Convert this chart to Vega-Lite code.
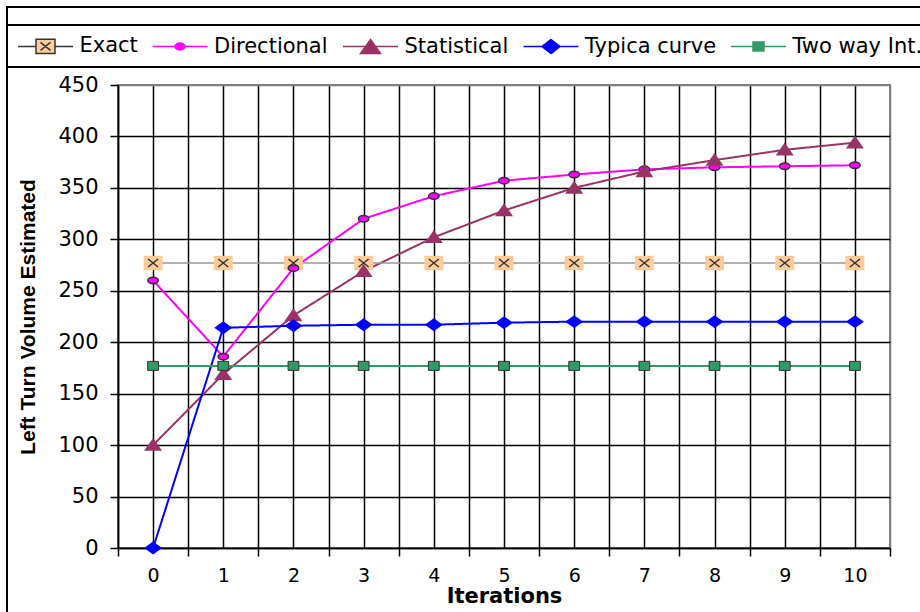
{
  "$schema": "https://vega.github.io/schema/vega-lite/v6.json",
  "width": 772,
  "height": 463,
  "autosize": {"type": "none"},
  "padding": {"left": 118, "top": 85, "right": 30, "bottom": 64},
  "background": "white",
  "config": {
    "view": {"stroke": "#808080", "strokeWidth": 2},
    "font": "DejaVu Sans"
  },
  "data": {
    "values": [
      {"iter": 0, "series": "Exact", "value": 277},
      {"iter": 1, "series": "Exact", "value": 277},
      {"iter": 2, "series": "Exact", "value": 277},
      {"iter": 3, "series": "Exact", "value": 277},
      {"iter": 4, "series": "Exact", "value": 277},
      {"iter": 5, "series": "Exact", "value": 277},
      {"iter": 6, "series": "Exact", "value": 277},
      {"iter": 7, "series": "Exact", "value": 277},
      {"iter": 8, "series": "Exact", "value": 277},
      {"iter": 9, "series": "Exact", "value": 277},
      {"iter": 10, "series": "Exact", "value": 277},
      {"iter": 0, "series": "Directional", "value": 260},
      {"iter": 1, "series": "Directional", "value": 186},
      {"iter": 2, "series": "Directional", "value": 272},
      {"iter": 3, "series": "Directional", "value": 320},
      {"iter": 4, "series": "Directional", "value": 342},
      {"iter": 5, "series": "Directional", "value": 357},
      {"iter": 6, "series": "Directional", "value": 363},
      {"iter": 7, "series": "Directional", "value": 368},
      {"iter": 8, "series": "Directional", "value": 370},
      {"iter": 9, "series": "Directional", "value": 371},
      {"iter": 10, "series": "Directional", "value": 372},
      {"iter": 0, "series": "Statistical", "value": 100},
      {"iter": 1, "series": "Statistical", "value": 169},
      {"iter": 2, "series": "Statistical", "value": 226},
      {"iter": 3, "series": "Statistical", "value": 269},
      {"iter": 4, "series": "Statistical", "value": 302},
      {"iter": 5, "series": "Statistical", "value": 328},
      {"iter": 6, "series": "Statistical", "value": 350},
      {"iter": 7, "series": "Statistical", "value": 366},
      {"iter": 8, "series": "Statistical", "value": 377},
      {"iter": 9, "series": "Statistical", "value": 387},
      {"iter": 10, "series": "Statistical", "value": 394},
      {"iter": 0, "series": "Typica curve", "value": 0},
      {"iter": 1, "series": "Typica curve", "value": 214},
      {"iter": 2, "series": "Typica curve", "value": 216},
      {"iter": 3, "series": "Typica curve", "value": 217},
      {"iter": 4, "series": "Typica curve", "value": 217},
      {"iter": 5, "series": "Typica curve", "value": 219},
      {"iter": 6, "series": "Typica curve", "value": 220},
      {"iter": 7, "series": "Typica curve", "value": 220},
      {"iter": 8, "series": "Typica curve", "value": 220},
      {"iter": 9, "series": "Typica curve", "value": 220},
      {"iter": 10, "series": "Typica curve", "value": 220},
      {"iter": 0, "series": "Two way Int.", "value": 177},
      {"iter": 1, "series": "Two way Int.", "value": 177},
      {"iter": 2, "series": "Two way Int.", "value": 177},
      {"iter": 3, "series": "Two way Int.", "value": 177},
      {"iter": 4, "series": "Two way Int.", "value": 177},
      {"iter": 5, "series": "Two way Int.", "value": 177},
      {"iter": 6, "series": "Two way Int.", "value": 177},
      {"iter": 7, "series": "Two way Int.", "value": 177},
      {"iter": 8, "series": "Two way Int.", "value": 177},
      {"iter": 9, "series": "Two way Int.", "value": 177},
      {"iter": 10, "series": "Two way Int.", "value": 177}
    ]
  },
  "encoding": {
    "x": {
      "field": "iter",
      "type": "quantitative",
      "scale": {"domain": [-0.5, 10.5], "nice": false, "zero": false},
      "axis": {
        "title": "Iterations",
        "values": [-0.5, 0, 0.5, 1, 1.5, 2, 2.5, 3, 3.5, 4, 4.5, 5, 5.5, 6, 6.5, 7, 7.5, 8, 8.5, 9, 9.5, 10, 10.5],
        "grid": true,
        "gridColor": {"condition": {"test": "datum.value === 10.5", "value": "#808080"}, "value": "#000000"},
        "gridWidth": 1.5,
        "gridOpacity": 1,
        "domainColor": "#000000",
        "domainWidth": 1.5,
        "tickColor": "#000000",
        "tickWidth": 1.5,
        "tickSize": 8,
        "tickOpacity": {"condition": {"test": "datum.value % 1 !== 0", "value": 1}, "value": 0},
        "labelExpr": "datum.value % 1 === 0 ? format(datum.value, 'd') : ''",
        "labelFont": "DejaVu Sans",
        "labelFontSize": 19,
        "labelColor": "#000000",
        "labelPadding": 10,
        "labelFlush": false,
        "labelOverlap": false,
        "titleFont": "DejaVu Sans",
        "titleFontSize": 21,
        "titleFontWeight": "bold",
        "titleColor": "#000000",
        "titlePadding": 0
      }
    },
    "y": {
      "field": "value",
      "type": "quantitative",
      "scale": {"domain": [0, 450], "nice": false},
      "axis": {
        "title": "Left Turn Volume Estimated",
        "values": [0, 50, 100, 150, 200, 250, 300, 350, 400, 450],
        "grid": true,
        "gridColor": {"condition": {"test": "datum.value === 450", "value": "#808080"}, "value": "#000000"},
        "gridWidth": 1.5,
        "gridOpacity": 1,
        "domainColor": "#000000",
        "domainWidth": 1.5,
        "tickColor": "#000000",
        "tickWidth": 1.5,
        "tickSize": 8,
        "labelFont": "DejaVu Sans",
        "labelFontSize": 21,
        "labelColor": "#000000",
        "labelPadding": 12,
        "labelFlush": false,
        "titleFont": "Liberation Sans",
        "titleFontSize": 21,
        "titleFontWeight": "bold",
        "titleColor": "#000000",
        "titlePadding": 19
      }
    }
  },
  "layer": [
    {
      "transform": [{"filter": "datum.series !== 'Exact'"}],
      "mark": {"type": "line", "strokeWidth": 2},
      "encoding": {
        "color": {
          "field": "series",
          "type": "nominal",
          "scale": {
            "domain": ["Exact", "Directional", "Statistical", "Typica curve", "Two way Int."],
            "range": ["#333333", "#FF00FF", "#993366", "#0000FF", "#339966"]
          },
          "legend": {
            "orient": "none",
            "legendX": -111,
            "legendY": -60,
            "direction": "horizontal",
            "title": null,
            "padding": 10,
            "strokeColor": "#000000",
            "labelFont": "DejaVu Sans",
            "labelFontSize": 21,
            "labelColor": "#000000",
            "symbolSize": 400,
            "symbolOffset": 17.5,
            "labelOffset": 23,
            "columnPadding": 11.5,
            "encode": {
              "legend": {"update": {"strokeWidth": {"value": 2}}},
              "symbols": {
                "update": {
                  "shape": {"signal": "datum.value === 'Exact' ? 'M-2.75,0H-0.95M0.95,0H2.75M-0.95,-0.72H0.95V0.72H-0.95ZM-0.5,-0.4L0.5,0.4M-0.5,0.4L0.5,-0.4' : datum.value === 'Directional' ? 'M-2.75,0H-0.5M0.5,0H2.75M-0.5,0A0.5,0.35 0 1,0 0.5,0A0.5,0.35 0 1,0 -0.5,0Z' : datum.value === 'Statistical' ? 'M-2.75,0H2.75M0,-0.7L1,0.7L-1,0.7Z' : datum.value === 'Typica curve' ? 'M-2.75,0H2.75M0,-0.7L0.9,0L0,0.7L-0.9,0Z' : 'M-2.75,0H-0.55M0.55,0H2.75M-0.55,-0.45H0.55V0.45H-0.55Z'"},
                  "fill": {"signal": "datum.value === 'Exact' ? '#FFCC99' : datum.value === 'Directional' ? '#FF00FF' : datum.value === 'Statistical' ? '#993366' : datum.value === 'Typica curve' ? '#0000FF' : '#339966'"},
                  "strokeWidth": {"value": 1.5},
                  "opacity": {"value": 1},
                  "fillOpacity": {"value": 1}
                }
              }
            }
          }
        },
        "strokeDash": {
          "datum": "frame",
          "type": "nominal",
          "scale": {"range": [[1, 0]]},
          "legend": {
            "orient": "none",
            "legendX": -111,
            "legendY": -78,
            "padding": 460,
            "title": null,
            "strokeColor": "#000000",
            "labelExpr": "''",
            "symbolOpacity": 0,
            "encode": {"legend": {"update": {"strokeWidth": {"value": 2}}}}
          }
        }
      }
    },
    {
      "transform": [{"filter": "datum.series === 'Exact'"}],
      "mark": {"type": "line", "strokeWidth": 1.5, "stroke": "#999999"},
      "encoding": {}
    },
    {
      "transform": [{"filter": "datum.series === 'Exact'"}],
      "mark": {"type": "point", "shape": "M-1.05,-0.8H1.05V0.8H-1.05Z", "size": 324, "filled": true, "fill": "#FFCC99", "strokeWidth": 0, "opacity": 1}
    },
    {
      "transform": [{"filter": "datum.series === 'Exact'"}],
      "mark": {"type": "point", "shape": "M-1,-0.8L1,0.8M-1,0.8L1,-0.8", "size": 100, "filled": false, "stroke": "#333333", "strokeWidth": 1.5, "opacity": 1}
    },
    {
      "transform": [{"filter": "datum.series === 'Directional'"}],
      "mark": {"type": "point", "shape": "M-1.05,0A1.05,0.65 0 1,0 1.05,0A1.05,0.65 0 1,0 -1.05,0Z", "size": 100, "filled": true, "fill": "#FF00FF", "stroke": "#333333", "strokeWidth": 1.5, "opacity": 1}
    },
    {
      "transform": [{"filter": "datum.series === 'Statistical'"}],
      "mark": {"type": "point", "shape": "M0,-0.8L1,0.64L-1,0.64Z", "size": 324, "filled": true, "fill": "#993366", "strokeWidth": 0, "opacity": 1}
    },
    {
      "transform": [{"filter": "datum.series === 'Typica curve'"}],
      "mark": {"type": "point", "shape": "M0,-0.72L1,0L0,0.72L-1,0Z", "size": 324, "filled": true, "fill": "#0000FF", "strokeWidth": 0, "opacity": 1}
    },
    {
      "transform": [{"filter": "datum.series === 'Two way Int.'"}],
      "mark": {"type": "point", "shape": "M-1.2,-1H1.2V1H-1.2Z", "size": 81, "filled": true, "fill": "#339966", "stroke": "#333333", "strokeWidth": 1, "opacity": 1}
    }
  ]
}
